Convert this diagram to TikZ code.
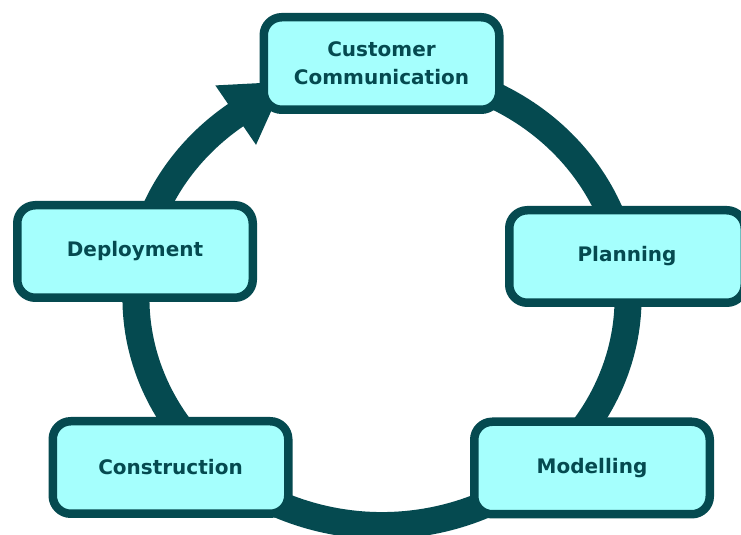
\documentclass[tikz,border=0pt]{standalone}
\usepackage{fontspec}
\setmainfont{DejaVu Sans}
\usetikzlibrary{calc}
\definecolor{ringcol}{HTML}{054A50}
\definecolor{boxfill}{HTML}{A5FFFD}
\tikzset{
  stagebox/.style={draw=ringcol, line width=8.5pt, fill=boxfill, rounded corners=18pt,
    minimum width=235.5pt, minimum height=92.5pt, inner sep=0pt, align=center,
    text=ringcol, font=\bfseries\fontsize{20}{28}\selectfont},
  ring/.style={draw=ringcol, line width=27pt},
  headfill/.style={fill=ringcol}
}
\begin{document}
\begin{tikzpicture}[x=1pt,y=1pt]
\useasboundingbox (0,0) rectangle (741,535);
\coordinate (c) at (382,237);
% ring
\draw[ring] ($(c)+(70:246pt and 227.5pt)$) arc[start angle=70, end angle=-236, x radius=246pt, y radius=227.5pt];
% arrowhead
\coordinate (ab) at ($(c)+(126.5:246pt and 227.5pt)$);
\coordinate (tip) at ($(ab)+(34.4:59pt)$);
\coordinate (cl) at ($(ab)+(124.4:36pt)$);
\coordinate (cr) at ($(ab)+(-55.6:36pt)$);
\fill[headfill] (cl) -- (tip) -- (cr) -- cycle;
% boxes
\node[stagebox] (cust) at (381.5,471.5) {Customer\\Communication};
\node[stagebox] (plan) at (627,278.5) {Planning};
\node[stagebox] (model) at (592,67) {Modelling};
\node[stagebox] (constr) at (170.5,67.5) {Construction};
\node[stagebox] (deploy) at (135,283.5) {Deployment};
\end{tikzpicture}
\end{document}
